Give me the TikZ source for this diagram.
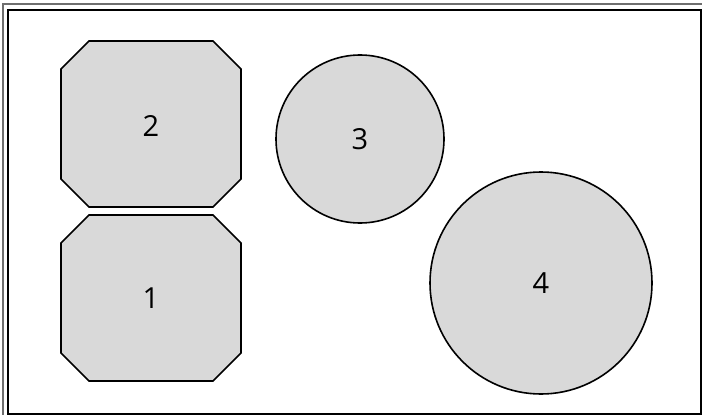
\documentclass[tikz,border=0pt]{standalone}
\usepackage{fontspec}
\setmainfont{Open Sans}
\usetikzlibrary{calc}
\definecolor{shapefill}{HTML}{D9D9D9}
\definecolor{framegray}{HTML}{6E6E6E}
\tikzset{
  shapeline/.style={draw=black, line width=1.6pt, fill=shapefill, line join=miter},
  lbl/.style={font=\fontsize{29}{32}\selectfont, text=black, inner sep=0pt},
  circ/.style={circle, shapeline, inner sep=0pt},
}
\begin{document}
\begin{tikzpicture}[x=1pt, y=-1pt]
\useasboundingbox (0,0) rectangle (706,417);
% frame
\draw[framegray, line width=1.5pt] (3,415) -- (3,4) -- (702,4);
\draw[black, line width=1.6pt] (8,10) rectangle (701,414);
% octagon 2
\draw[shapeline] (89,41) -- (213,41) -- (241,69) -- (241,179) -- (213,207) -- (89,207) -- (61,179) -- (61,69) -- cycle;
\node[lbl] (n2) at (151,126) {2};
% octagon 1
\draw[shapeline] (89,215) -- (213,215) -- (241,243) -- (241,353) -- (213,381) -- (89,381) -- (61,353) -- (61,243) -- cycle;
\node[lbl] (n1) at (151,298) {1};
% circles
\node[circ, minimum size=168pt] (c3) at (360,139) {};
\node[lbl] at (c3) {3};
\node[circ, minimum size=222pt] (c4) at (541,283) {};
\node[lbl] at (c4) {4};
\end{tikzpicture}
\end{document}
